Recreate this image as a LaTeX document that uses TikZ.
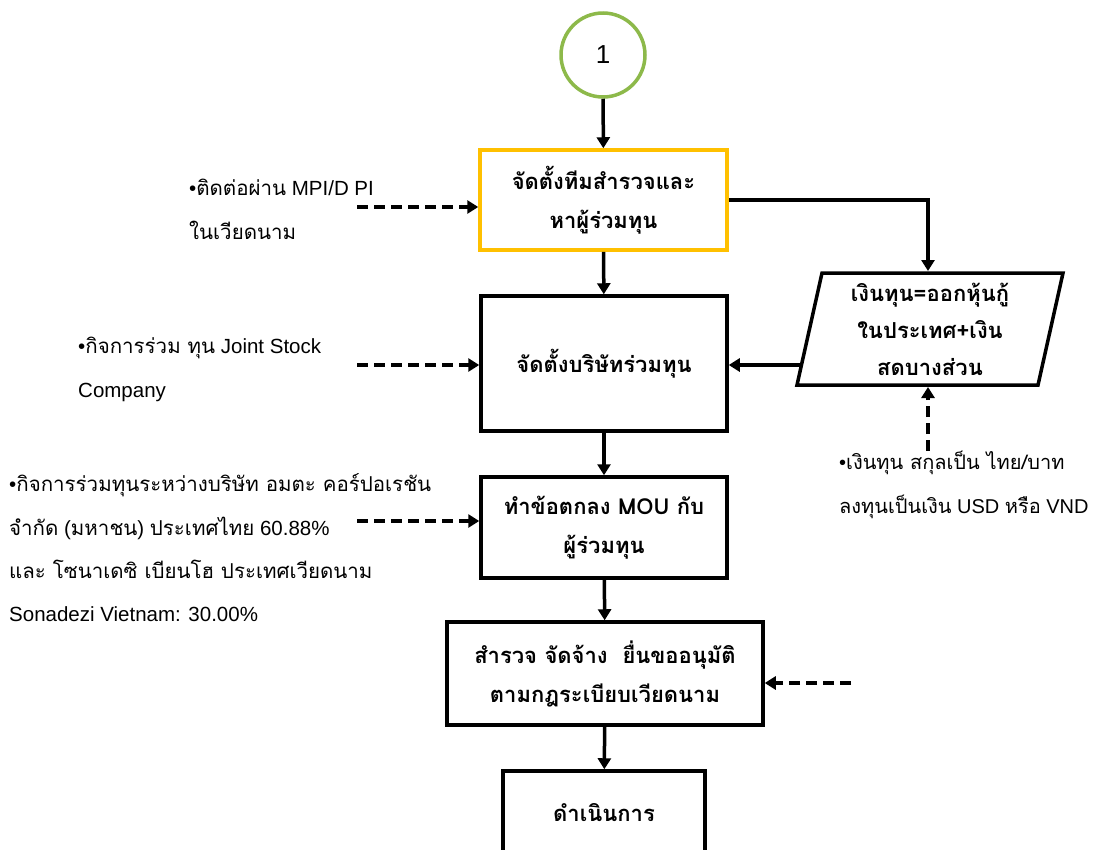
\documentclass[tikz,border=0pt]{standalone}
\usepackage{fontspec}
\setmainfont{Liberation Sans}
\newfontfamily\thai[Script=Thai]{Loma}
\usetikzlibrary{arrows.meta}
\definecolor{ringgreen}{RGB}{141,185,74}
\definecolor{boxyellow}{RGB}{255,192,0}
\begin{document}
\begin{tikzpicture}[x=1pt,y=-1pt,
  flow/.style={draw, line width=3.5pt, fill=white, align=center,
    font=\thai\bfseries\fontsize{22}{39}\selectfont, inner sep=0pt},
  link/.style={line width=3.5pt, -{Triangle[length=11pt,width=13pt]}},
  feed/.style={line width=4pt, dash pattern=on 11pt off 6pt,
    -{Triangle[length=11pt,width=13pt]}},
  note/.style={align=left, anchor=west, inner sep=0pt,
    font=\fontsize{20.5}{44}\selectfont}]
\useasboundingbox[fill=white] (0,0) rectangle (1094,849);

% start connector
\node (c1) [circle, draw=ringgreen, line width=3.5pt, minimum size=84pt,
  font=\fontsize{26}{30}\selectfont] at (603,55) {1};

% main process boxes
\node (b1) [flow, draw=boxyellow, minimum width=247pt, minimum height=100pt]
  at (603.5,200) {จัดตั้งทีมสำรวจและ\\หาผู้ร่วมทุน};
\node (b2) [flow, minimum width=246pt, minimum height=135pt]
  at (604,363.5) {จัดตั้งบริษัทร่วมทุน};
\node (b3) [flow, minimum width=246pt, minimum height=101pt]
  at (604,527.5) {ทำข้อตกลง MOU กับ\\ผู้ร่วมทุน};
\node (b4) [flow, minimum width=316pt, minimum height=103pt]
  at (605,673.5) {สำรวจ จัดจ้าง~ ยื่นขออนุมัติ\\ตามกฎระเบียบเวียดนาม};
% last box runs past the lower edge of the page
\node (b5) [flow, minimum width=202pt, minimum height=90pt]
  at (604,816) {\raisebox{8pt}{ดำเนินการ}};

% funding parallelogram
\draw[line width=3.5pt, fill=white] (822,273) -- (1063,273) -- (1038,385)
  -- (797,385) -- cycle;
\node (pt) [align=center, inner sep=0pt,
  font=\thai\bfseries\fontsize{22}{37}\selectfont] at (930,329)
  {เงินทุน=ออกหุ้นกู้\\ในประเทศ+เงิน\\สดบางส่วน};
\coordinate (ptop) at (928,271);
\coordinate (pbot) at (928,387);
\coordinate (pleft) at (801,365);

% solid flow
\draw[link] (c1) -- (b1);
\draw[link] (b1) -- (b2);
\draw[link] (b2) -- (b3);
\draw[link] (b3) -- (b4);
\draw[link] (b4) -- (b5);
\draw[link] (b1.east) -| (ptop);
\draw[link] (pleft) -- (pleft -| b2.east);

% dashed inputs
\coordinate (f1) at (357,207);
\coordinate (f2) at (357,365);
\coordinate (f3) at (357,521);
\coordinate (f4) at (851,683);
\coordinate (f5) at (928,451);
\draw[feed] (f1) -- (f1 -| b1.west);
\draw[feed] (f2) -- (f2 -| b2.west);
\draw[feed] (f3) -- (f3 -| b3.west);
\draw[feed] (f4) -- (f4 -| b4.east);
\draw[feed] (f5) -- (pbot);

% side notes
\node (n1) [note] at (189,209)
  {•{\thai ติดต่อผ่าน} MPI/D PI\\{\thai ในเวียดนาม}};
\node (n2) [note] at (78,369.5)
  {•{\thai กิจการร่วม ทุน} Joint Stock\\Company};
\node (n3) [note, font=\fontsize{20.5}{43.3}\selectfont] at (9,548)
  {•{\thai กิจการร่วมทุนระหว่างบริษัท อมตะ คอร์ปอเรชัน}\\
   {\thai จำกัด} ({\thai มหาชน}) {\thai ประเทศไทย} 60.88\%\\
   {\thai และ โซนาเดซิ เบียนโฮ ประเทศเวียดนาม}\\
   Sonadezi Vietnam: 30.00\%};
\node (n4) [note, font=\fontsize{20}{44}\selectfont] at (839,484.5)
  {•{\thai เงินทุน สกุลเป็น ไทย/บาท}\\{\thai ลงทุนเป็นเงิน} USD {\thai หรือ} VND};
\end{tikzpicture}
\end{document}
